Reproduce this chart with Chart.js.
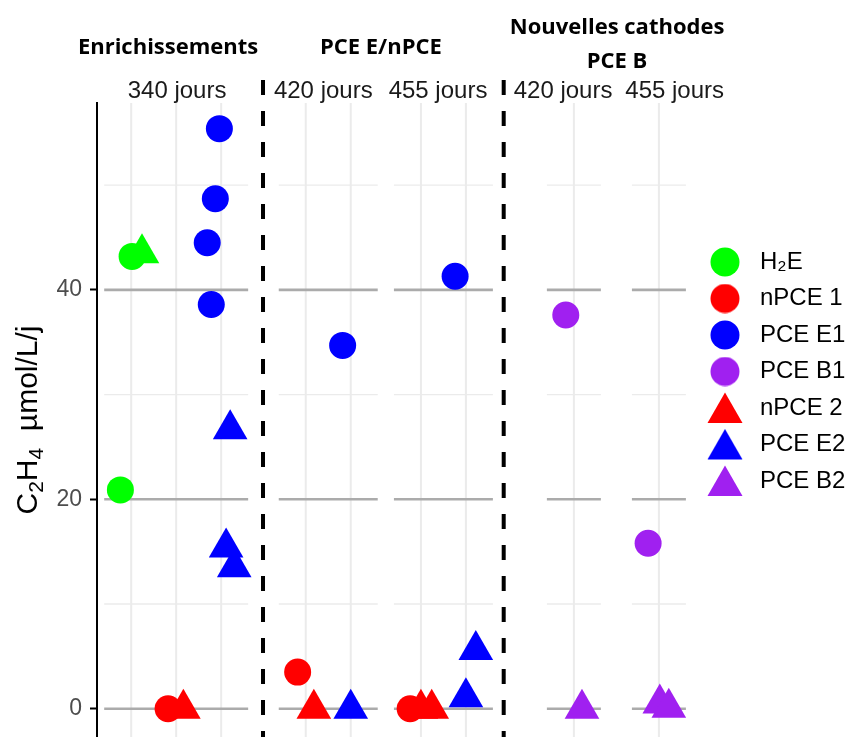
<!DOCTYPE html>
<html>
<head>
<meta charset="utf-8">
<script src="https://cdn.jsdelivr.net/npm/chart.js@4.4.1/dist/chart.umd.min.js"></script>
<style>
  html, body { margin: 0; padding: 0; background: #fff; }
</style>
</head>
<body>
<canvas id="myChart" width="849" height="737"></canvas>
<script>
// facet headers
const groupTitles = [['Enrichissements'], ['PCE E/nPCE'], ['Nouvelles cathodes', 'PCE B']];
const stripLabels = ['340 jours', '420 jours', '455 jours', '420 jours', '455 jours'];
// categories inside each facet (free x scales)
const panelCategories = [['H₂E', 'nPCE', 'PCE E'], ['nPCE', 'PCE E'], ['nPCE', 'PCE E'], ['PCE B'], ['PCE B']];
const yTicks = [0, 20, 40];
const yMinor = [10, 30, 50];

// C2H4 (µmol/L/j), rows are [facet, value]
const h2e1  = [[0, 43.2], [0, 20.9]];
const npce1 = [[0, 0], [1, 3.5], [2, 0]];
const pceE1 = [[0, 55.4], [0, 48.7], [0, 44.5], [0, 38.6], [1, 34.7], [2, 41.3]];
const pceB1 = [[3, 37.6], [4, 15.8]];
const npce2 = [[0, 0], [1, 0], [2, 0], [2, 0]];
const pceE2 = [[0, 26.7], [0, 15.4], [0, 13.5], [1, 0], [2, 5.6], [2, 1.1]];
const pceB2 = [[3, 0], [4, 0.5], [4, 0.1]];
const h2e2  = [[0, 43.5]];

// horizontal jitter (fraction of a category step)
const jitH2e1  = [0.02, -0.24];
const jitNpce1 = [-0.18, -0.18, -0.24];
const jitPceE1 = [-0.04, -0.13, -0.31, -0.22, -0.18, -0.24];
const jitPceB1 = [-0.18, -0.24];
const jitNpce2 = [0.16, 0.18, 0.0, 0.24];
const jitPceE2 = [0.2, 0.11, 0.29, 0.0, 0.22, 0.0];
const jitPceB2 = [0.18, 0.02, 0.22];
const jitH2e2  = [0.24];

// facet layout on the hidden x axis (1 unit = 1 category step)
const expand = 0.6;
const panelStart = [0.16, 4.04, 6.6, 10.0, 11.89];
const stripCenter = [1.78, 5.03, 7.58, 10.36, 12.84];
const groupCenter = [1.58, 6.31, 11.56];
const separators = [3.69, 9.04];

function toPoints(rows, cat, jit) {
  return rows.map(([p, v], i) => ({
    x: panelStart[p] + expand + panelCategories[p].indexOf(cat) + jit[i],
    y: v
  }));
}

const GREEN = '#00FF00', RED = '#FF0000', BLUE = '#0000FF', PURPLE = '#A020F0';

function ds(label, rows, cat, jit, color, shape, extra) {
  return Object.assign({
    label,
    data: toPoints(rows, cat, jit),
    backgroundColor: color,
    borderColor: color,
    borderWidth: 0,
    pointStyle: shape,
    pointRadius: shape === 'triangle' ? 20 : 13.5,
    pointHoverRadius: shape === 'triangle' ? 20 : 13.5,
  }, extra || {});
}

const datasets = [];
datasets.push(ds('H₂E', h2e1, 'H₂E', jitH2e1, GREEN, 'circle'));
datasets.push(ds('nPCE 1', npce1, 'nPCE', jitNpce1, RED, 'circle'));
datasets.push(ds('PCE E1', pceE1, 'PCE E', jitPceE1, BLUE, 'circle'));
datasets.push(ds('PCE B1', pceB1, 'PCE B', jitPceB1, PURPLE, 'circle'));
datasets.push(ds('nPCE 2', npce2, 'nPCE', jitNpce2, RED, 'triangle'));
datasets.push(ds('PCE E2', pceE2, 'PCE E', jitPceE2, BLUE, 'triangle'));
datasets.push(ds('PCE B2', pceB2, 'PCE B', jitPceB2, PURPLE, 'triangle'));
datasets.push(ds('H₂E 2', h2e2, 'H₂E', jitH2e2, GREEN, 'triangle', { hideLegend: true }));

// legend keys drawn at the same size as in the plot
function legendMarker(color, shape) {
  const c = document.createElement('canvas');
  const g = c.getContext('2d');
  if (shape === 'triangle') {
    c.width = 36; c.height = 32;
    g.fillStyle = color;
    g.beginPath();
    g.moveTo(18, 0.5); g.lineTo(35.5, 31); g.lineTo(0.5, 31);
    g.closePath(); g.fill();
  } else {
    c.width = 30; c.height = 30;
    g.fillStyle = color;
    g.beginPath(); g.arc(15, 15, 14.5, 0, Math.PI * 2); g.fill();
  }
  return c;
}

const facetPlugin = {
  id: 'facets',
  beforeDatasetsDraw(chart) {
    const { ctx, chartArea: a, scales: { x, y } } = chart;
    ctx.save();
    panelCategories.forEach((cats, p) => {
      const x0 = x.getPixelForValue(panelStart[p]);
      const x1 = x.getPixelForValue(panelStart[p] + cats.length - 1 + 2 * expand);
      ctx.strokeStyle = '#EBEBEB';
      ctx.lineWidth = 2;
      cats.forEach((c, k) => {
        const px = x.getPixelForValue(panelStart[p] + expand + k);
        ctx.beginPath(); ctx.moveTo(px, a.top); ctx.lineTo(px, a.bottom); ctx.stroke();
      });
      ctx.lineWidth = 1.3;
      yMinor.forEach(v => {
        const py = y.getPixelForValue(v);
        ctx.beginPath(); ctx.moveTo(x0, py); ctx.lineTo(x1, py); ctx.stroke();
      });
      ctx.strokeStyle = '#ABABAB';
      ctx.lineWidth = 2.6;
      yTicks.forEach(v => {
        const py = y.getPixelForValue(v);
        ctx.beginPath(); ctx.moveTo(x0, py); ctx.lineTo(x1, py); ctx.stroke();
      });
    });
    // dashed separators between groups
    ctx.strokeStyle = '#000';
    ctx.lineWidth = 4;
    ctx.setLineDash([15, 16]);
    separators.forEach(u => {
      const px = x.getPixelForValue(u);
      ctx.beginPath(); ctx.moveTo(px, 80); ctx.lineTo(px, a.bottom); ctx.stroke();
    });
    ctx.restore();
  },
  afterDraw(chart) {
    const { ctx, chartArea: a, scales: { x } } = chart;
    ctx.save();
    ctx.textAlign = 'center';
    ctx.textBaseline = 'alphabetic';
    ctx.fillStyle = '#1A1A1A';
    ctx.font = '24px "Liberation Sans", Arial, sans-serif';
    stripLabels.forEach((t, i) => ctx.fillText(t, x.getPixelForValue(stripCenter[i]), 98));
    ctx.fillStyle = '#000';
    ctx.font = 'bold 22px "Open Sans", sans-serif';
    groupTitles.forEach((lines, i) => {
      const px = x.getPixelForValue(groupCenter[i]);
      if (lines.length === 1) ctx.fillText(lines[0], px, 54);
      else { ctx.fillText(lines[0], px, 34); ctx.fillText(lines[1], px, 68); }
    });
    // y axis title with subscripts, centred on the panel height
    const big = '30px "Liberation Sans", Arial, sans-serif';
    const small = '21px "Liberation Sans", Arial, sans-serif';
    const parts = [['C', big, 0], ['2', small, 6], ['H', big, 0], ['4', small, 6], ['  µmol/L/j', big, 0]];
    let total = 0;
    parts.forEach(([t, f]) => { ctx.font = f; total += ctx.measureText(t).width; });
    ctx.translate(37, (a.top + a.bottom) / 2);
    ctx.rotate(-Math.PI / 2);
    ctx.textAlign = 'left';
    let cx = -total / 2;
    parts.forEach(([t, f, dy]) => {
      ctx.font = f;
      ctx.fillText(t, cx, dy);
      cx += ctx.measureText(t).width;
    });
    ctx.restore();
  }
};

const config = {
  type: 'scatter',
  data: { datasets },
  options: {
    responsive: false,
    animation: false,
    layout: { autoPadding: false, padding: { top: 103, left: 0, right: 0, bottom: 0 } },
    plugins: {
      tooltip: { enabled: false },
      legend: {
        position: 'right',
        align: 'start',
        maxWidth: 159.5,
        title: { display: true, text: '', font: { size: 10 }, padding: { top: 122.5, bottom: 0 } },
        labels: {
          font: { family: '"Liberation Sans", Arial, sans-serif', size: 24 },
          color: '#000',
          usePointStyle: true,
          pointStyleWidth: 46,
          padding: 12.5,
          generateLabels(chart) {
            return chart.data.datasets
              .map((d, i) => ({
                text: d.label,
                datasetIndex: i,
                pointStyle: legendMarker(d.backgroundColor, d.pointStyle),
                fillStyle: d.backgroundColor,
                strokeStyle: d.backgroundColor,
                lineWidth: 0,
                hidden: false,
                fontColor: '#000'
              }))
              .filter(item => !chart.data.datasets[item.datasetIndex].hideLegend);
          }
        }
      }
    },
    scales: {
      x: { type: 'linear', display: false, min: 0, max: 13.17 },
      y: {
        type: 'linear',
        min: -2.7,
        max: 57.85,
        afterFit(scale) {
          scale.width = 97;
          scale.paddingTop = 0;
          scale.paddingBottom = 0;
        },
        afterBuildTicks(scale) { scale.ticks = yTicks.map(v => ({ value: v })); },
        ticks: {
          color: '#4D4D4D',
          padding: 8,
          font: { family: '"Liberation Sans", Arial, sans-serif', size: 23 }
        },
        grid: { drawOnChartArea: false, drawTicks: true, tickLength: 7, tickColor: '#000', tickWidth: 2 },
        border: { display: true, color: '#000', width: 2 }
      }
    }
  },
  plugins: [facetPlugin]
};

const ctx = document.getElementById('myChart').getContext('2d');
const myChart = new Chart(ctx, config);
</script>
</body>
</html>
